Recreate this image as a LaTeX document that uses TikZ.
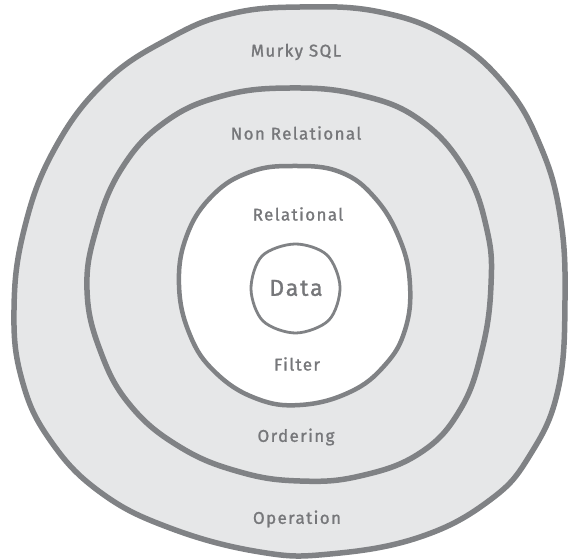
\documentclass[tikz,border=0pt]{standalone}
\usepackage{fontspec}
\newfontfamily\handfont[LetterSpace=8, FakeBold=1.2]{Fira Sans}
\definecolor{ringline}{HTML}{808285}
\definecolor{ringfill}{HTML}{E6E7E8}
\definecolor{labeltext}{HTML}{76777A}
\begin{document}
\begin{tikzpicture}[x=1pt,y=-1pt,
  ring/.style={draw=ringline, fill=ringfill, line join=round},
  label/.style={text=labeltext, font=\handfont\fontsize{17}{20}\selectfont, inner sep=0pt}]
\useasboundingbox (0,0) rectangle (568,559);
% outer blob
\draw[ring, line width=5.5pt] plot[smooth cycle, tension=0.7] coordinates {
 (300,7) (380,12) (450,38) (505,85) (540,145) (560,215) (565,300) (558,390)
 (530,455) (490,500) (420,537) (330,554) (260,552) (170,528) (100,492)
 (50,440) (22,380) (14,310) (24,230) (54,150) (105,82) (170,38) (230,14)};
% middle blob
\draw[ring, line width=5.5pt] plot[smooth cycle, tension=0.7] coordinates {
 (290,88) (360,95) (420,120) (465,170) (487,230) (491,285) (482,350)
 (460,410) (420,453) (360,476) (300,481) (240,472) (180,447) (130,405)
 (100,350) (87,290) (96,230) (122,168) (165,122) (222,96)};
% inner blob
\draw[ring, fill=white, line width=4.5pt] plot[smooth cycle, tension=0.7] coordinates {
 (293,166) (340,172) (375,198) (400,240) (410,285) (405,330) (385,365)
 (350,392) (300,405) (255,398) (215,372) (190,335) (179,285) (187,235)
 (213,195) (250,172)};
% data circle
\draw[draw=ringline, fill=white, line width=2.8pt] plot[smooth cycle, tension=0.55] coordinates {
 (295,244) (327,255) (340,287) (329,320) (296,333) (263,321) (251,289) (262,256)};
\node[label] (murky) at (296,52) {Murky SQL};
\node[label] (nonrel) at (296,133) {Non Relational};
\node[label] (rel) at (298,214) {Relational};
\node[label, font=\handfont\fontsize{23}{27}\selectfont] (data) at (296,288) {Data};
\node[label] (filter) at (297,364) {Filter};
\node[label] (ordering) at (296,437) {Ordering};
\node[label] (operation) at (297,519) {Operation};
\end{tikzpicture}
\end{document}
